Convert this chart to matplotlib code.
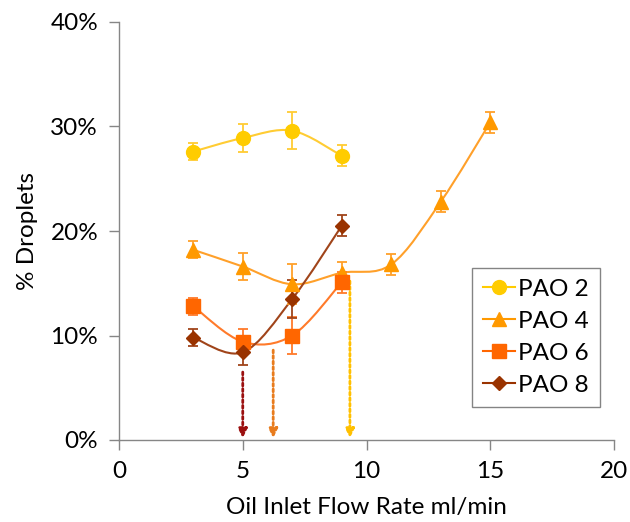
import matplotlib
matplotlib.use("Agg")
import matplotlib.pyplot as plt
from matplotlib.path import Path
from matplotlib.patches import PathPatch
from matplotlib.ticker import FuncFormatter

plt.rcParams["font.family"] = ["Lato", "DejaVu Sans"]

# data (% droplets vs oil inlet flow rate)
x_short = [3, 5, 7, 9]
x_long = [3, 5, 7, 9, 11, 13, 15]

pao2 = [27.6, 28.9, 29.6, 27.2]
pao2_err = [0.8, 1.3, 1.8, 1.0]

pao4 = [18.2, 16.6, 14.9, 16.0, 16.8, 22.8, 30.4]
pao4_err = [0.8, 1.3, 1.9, 1.0, 1.0, 1.0, 1.0]

pao6 = [12.8, 9.4, 10.0, 15.1]
pao6_err = [0.8, 1.2, 1.8, 1.0]

pao8 = [9.8, 8.4, 13.5, 20.5]
pao8_err = [0.8, 1.2, 1.8, 1.0]

# dotted arrows: (x, start y, colour)
arrow_x = [5.0, 6.23, 9.33]
arrow_top = [6.5, 8.6, 15.2]
arrow_colors = ["#9B1010", "#E87C1E", "#FFC000"]

series = [
    ("PAO 2", x_short, pao2, pao2_err, "o", "#FFCC00", "#FFCC33", 10),
    ("PAO 4", x_long, pao4, pao4_err, "^", "#FF9900", "#FFA02A", 10),
    ("PAO 6", x_short, pao6, pao6_err, "s", "#FF6600", "#FF7A2A", 10),
    ("PAO 8", x_short, pao8, pao8_err, "D", "#993300", "#A0441A", 7),
]


def smooth_path(xs, ys):
    # Excel-style smoothed line as cubic bezier segments
    pts = list(zip(xs, ys))
    verts = [pts[0]]
    codes = [Path.MOVETO]
    n = len(pts)
    for i in range(n - 1):
        p0 = pts[i - 1] if i > 0 else pts[i]
        p1 = pts[i]
        p2 = pts[i + 1]
        p3 = pts[i + 2] if i + 2 < n else pts[i + 1]
        c1 = (p1[0] + (p2[0] - p0[0]) / 6, p1[1] + (p2[1] - p0[1]) / 6)
        c2 = (p2[0] - (p3[0] - p1[0]) / 6, p2[1] - (p3[1] - p1[1]) / 6)
        verts += [c1, c2, p2]
        codes += [Path.CURVE4] * 3
    return Path(verts, codes)


fig = plt.figure(figsize=(6.3, 5.22), dpi=100)
ax = fig.add_axes([119 / 630, 1 - 440 / 522, 495 / 630, 418 / 522])

for name, xs, ys, err, mk, col, lcol, ms in series:
    ax.add_patch(PathPatch(smooth_path(xs, ys), fill=False, edgecolor=lcol, lw=1.5, zorder=2))
    ax.errorbar(xs, ys, yerr=err, fmt="none", ecolor=lcol, elinewidth=1.3, capsize=3.5,
                capthick=1.3, zorder=3)
    ax.plot(xs, ys, linestyle="none", marker=mk, color=col, markersize=ms, zorder=4)
    ax.plot([], [], marker=mk, color=col, markersize=ms, lw=1.5, label=name,
            markeredgecolor=col)

for ax_x, top, col in zip(arrow_x, arrow_top, arrow_colors):
    ax.annotate("", xy=(ax_x, 0.2), xytext=(ax_x, top),
                arrowprops=dict(arrowstyle="-|>", color=col, lw=2, linestyle=(0, (1, 1)),
                                mutation_scale=13, shrinkA=0, shrinkB=0), zorder=1)

ax.set_xlim(0, 20)
ax.set_ylim(0, 40)
ax.set_xticks([0, 5, 10, 15, 20])
ax.set_yticks([0, 10, 20, 30, 40])
ax.yaxis.set_major_formatter(FuncFormatter(lambda v, p: f"{v:.0f}%"))

for s in ["top", "right"]:
    ax.spines[s].set_visible(False)
for s in ["left", "bottom"]:
    ax.spines[s].set_color("#868686")
    ax.spines[s].set_linewidth(1.0)
ax.tick_params(direction="out", length=7, width=1.0, color="#868686",
               labelsize=17.5, labelcolor="black", pad=8)

ax.set_xlabel("Oil Inlet Flow Rate ml/min", fontsize=17.5, labelpad=11)
ax.set_ylabel("% Droplets", fontsize=17.5, labelpad=9)

leg = ax.legend(loc="upper left", bbox_to_anchor=(353 / 495, (440 - 268) / 418),
                borderaxespad=0, fontsize=17.5, frameon=True, fancybox=False, borderpad=0.45,
                handlelength=1.3, handletextpad=0.15, labelspacing=0.45)
leg.get_frame().set_edgecolor("#666666")
leg.get_frame().set_linewidth(1.0)

fig.savefig("out.png", dpi=100)
